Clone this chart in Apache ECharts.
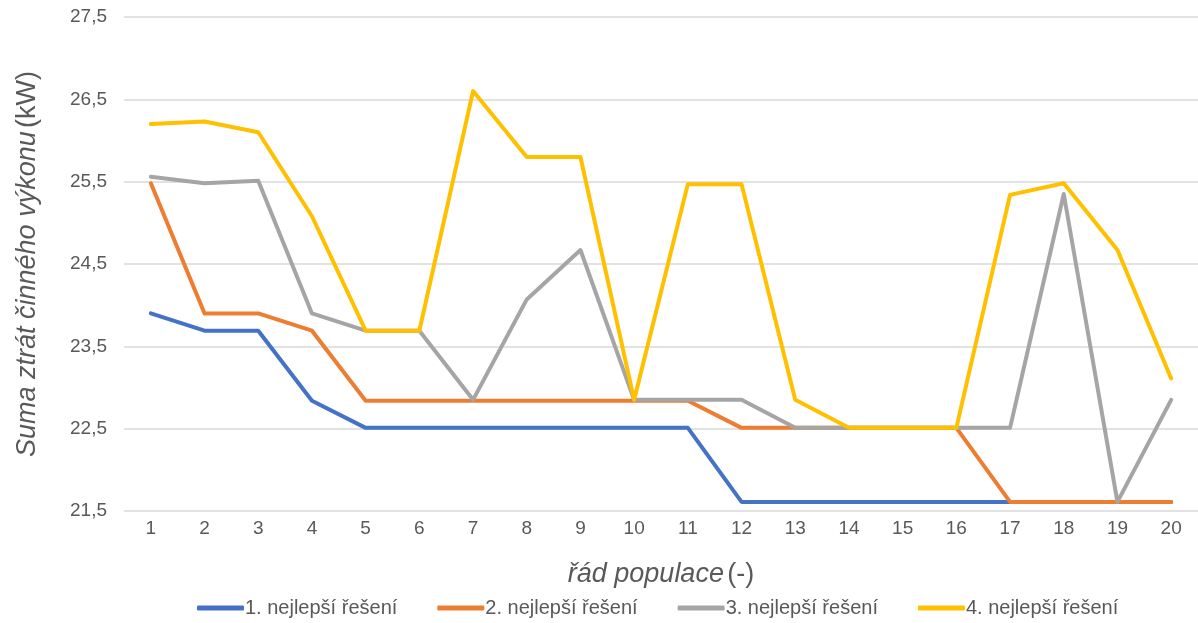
<!DOCTYPE html>
<html>
<head>
<meta charset="utf-8">
<script src="https://cdn.jsdelivr.net/npm/echarts@6/dist/echarts.min.js"></script>
<style>html,body{margin:0;padding:0;background:#fff}#c{width:1198px;height:623px}</style>
</head>
<body>
<div id="c"></div>
<script>
const categories = ['1','2','3','4','5','6','7','8','9','10','11','12','13','14','15','16','17','18','19','20'];
const seriesNames = ['1. nejlepší řešení','2. nejlepší řešení','3. nejlepší řešení','4. nejlepší řešení'];
const best1 = [23.90,23.69,23.69,22.84,22.51,22.51,22.51,22.51,22.51,22.51,22.51,21.61,21.61,21.61,21.61,21.61,21.61,21.61,21.61,21.61];
const best2 = [25.48,23.90,23.90,23.69,22.84,22.84,22.84,22.84,22.84,22.84,22.84,22.51,22.51,22.51,22.51,22.51,21.61,21.61,21.61,21.61];
const best3 = [25.56,25.48,25.51,23.90,23.69,23.69,22.85,24.07,24.67,22.85,22.85,22.85,22.51,22.51,22.51,22.51,22.51,25.35,21.61,22.85];
const best4 = [26.20,26.23,26.10,25.08,23.69,23.69,26.60,25.80,25.80,22.85,25.47,25.47,22.85,22.51,22.51,22.51,25.34,25.48,24.67,23.11];
const colors = ['#4472C4','#ED7D31','#A5A5A5','#FFC000'];
const yMin = 21.5, yMax = 27.5, yStep = 1;

const chart = echarts.init(document.getElementById('c'));
const font = 'Liberation Sans, Arial, sans-serif';
const data = [best1,best2,best3,best4];
chart.setOption({
  animation:false,
  color: colors,
  grid:{left:124, top:17, width:1078, bottom:112, containLabel:false},
  xAxis:{
    type:'category', data:categories, boundaryGap:true,
    axisLine:{show:false}, axisTick:{show:false},
    axisLabel:{color:'#595959', fontSize:19, fontFamily:font, margin:8},
    name:'{i|řád populace} {n|(-)}', nameLocation:'middle', nameGap:50,
    nameTextStyle:{rich:{
      i:{fontStyle:'italic', fontSize:27, color:'#595959', fontFamily:font},
      n:{fontSize:27, color:'#595959', fontFamily:font}
    }}
  },
  yAxis:{
    type:'value', min:yMin, max:yMax, interval:yStep,
    axisLine:{show:false}, axisTick:{show:false},
    splitLine:{lineStyle:{color:'#D9D9D9', width:1.5}},
    axisLabel:{color:'#595959', fontSize:19, fontFamily:font, margin:17,
      formatter:v=>v.toFixed(1).replace('.',',')},
    name:'{i|Suma ztrát činného výkonu} {n|(kW)}', nameLocation:'middle', nameGap:83, nameRotate:90,
    nameTextStyle:{rich:{
      i:{fontStyle:'italic', fontSize:27, color:'#595959', fontFamily:font},
      n:{fontSize:27, color:'#595959', fontFamily:font}
    }}
  },
  legend:{
    bottom:0, left:192, itemWidth:47, itemHeight:5, itemGap:40,
    icon:'roundRect',
    textStyle:{color:'#595959', fontSize:20, fontFamily:font, padding:[0,0,0,-4]},
    data:seriesNames
  },
  series: seriesNames.map((n,i)=>({
    name:n, type:'line', data:data[i], showSymbol:false, symbol:'none',
    lineStyle:{width:4, color:colors[i], cap:'round', join:'round'},
    itemStyle:{color:colors[i]}
  }))
});
</script>
</body>
</html>
